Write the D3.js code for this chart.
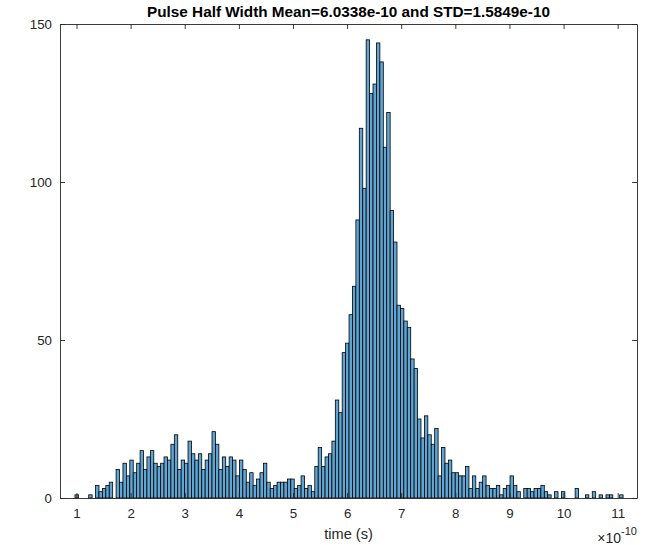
<!DOCTYPE html>
<html>
<head>
<meta charset="utf-8">
<script src="https://cdn.jsdelivr.net/npm/d3@7"></script>
<style>
  body { margin: 0; background: #fff; }
  svg { display: block; font-family: "Liberation Sans", Arial, Helvetica, sans-serif; }
  .axis text { font-size: 13.3px; fill: #262626; }
  .axis path, .axis line { stroke: #262626; stroke-width: 0.9; }
</style>
</head>
<body>
<div id="chart"></div>
<script>
'use strict';

// histogram counts per bin, bins in units of 1e-10 s
var binStart = 0.972
  , binWidth = 0.0633
  , counts = [
      1, 0, 0, 0, 1, 0, 4, 2, 3, 4,
      5, 0, 9, 5, 11, 7, 12, 8, 11, 15,
      9, 13, 15, 11, 10, 11, 13, 12, 17, 20,
      9, 12, 11, 18, 14, 12, 14, 9, 12, 14,
      21, 17, 9, 13, 10, 13, 12, 7, 12, 9,
      5, 8, 4, 6, 8, 11, 5, 3, 4, 5,
      5, 5, 6, 6, 3, 4, 7, 3, 4, 2,
      10, 16, 10, 13, 14, 18, 31, 27, 46, 49,
      58, 67, 88, 117, 98, 145, 128, 131, 144, 138,
      111, 122, 91, 81, 61, 60, 56, 54, 44, 41,
      25, 19, 26, 20, 17, 22, 7, 16, 11, 12,
      8, 8, 7, 7, 10, 3, 7, 3, 5, 7,
      4, 3, 3, 4, 1, 3, 4, 7, 4, 2,
      0, 3, 3, 2, 3, 3, 4, 2, 1, 0,
      2, 0, 2, 0, 0, 0, 3, 0, 0, 1,
      0, 2, 0, 1, 0, 1, 1, 0, 0, 1
    ]
  , xTicks = [1, 2, 3, 4, 5, 6, 7, 8, 9, 10, 11]
  , yTicks = [0, 50, 100, 150]
  , xDomain = [0.695, 11.357]
  , yDomain = [0, 150]
  , titleText = 'Pulse Half Width Mean=6.0338e-10 and STD=1.5849e-10'
  , xLabelText = 'time (s)'
;

var width = 656
  , height = 545
  , margin = { top: 24, right: 19, bottom: 47, left: 60 }
  , innerW = width - margin.left - margin.right
  , innerH = height - margin.top - margin.bottom
;

var svg = d3.select('#chart').append('svg')
    .attr('width', width)
    .attr('height', height);

var g = svg.append('g')
    .attr('transform', 'translate(' + margin.left + ',' + margin.top + ')');

var x = d3.scaleLinear().domain(xDomain).range([0, innerW]);
var y = d3.scaleLinear().domain(yDomain).range([innerH, 0]);

// bars
g.selectAll('rect.bar')
    .data(counts)
    .enter()
    .append('rect')
    .attr('class', 'bar')
    .attr('x', function (d, i) { return x(binStart + i * binWidth); })
    .attr('width', function (d, i) { return x(binStart + (i + 1) * binWidth) - x(binStart + i * binWidth); })
    .attr('y', function (d) { return y(d); })
    .attr('height', function (d) { return y(0) - y(d); })
    .attr('fill', 'rgb(96,166,213)')
    .attr('stroke', '#000')
    .attr('stroke-width', 0.8);

// axes, ticks pointing inward like matlab
var tick = 5;

g.append('g')
    .attr('class', 'axis')
    .attr('transform', 'translate(0,' + innerH + ')')
    .call(d3.axisBottom(x).tickValues(xTicks).tickSizeInner(-tick).tickSizeOuter(0).tickPadding(11));

g.append('g')
    .attr('class', 'axis')
    .call(d3.axisTop(x).tickValues(xTicks).tickSizeInner(-tick).tickSizeOuter(0).tickFormat(''));

g.append('g')
    .attr('class', 'axis')
    .call(d3.axisLeft(y).tickValues(yTicks).tickSizeInner(-tick).tickSizeOuter(0).tickPadding(8));

g.append('g')
    .attr('class', 'axis')
    .attr('transform', 'translate(' + innerW + ',0)')
    .call(d3.axisRight(y).tickValues(yTicks).tickSizeInner(-tick).tickSizeOuter(0).tickFormat(''));

// title
svg.append('text')
    .attr('x', margin.left + innerW / 2)
    .attr('y', 17)
    .attr('text-anchor', 'middle')
    .attr('font-size', '15.3px')
    .attr('font-weight', 'bold')
    .attr('fill', '#000')
    .text(titleText);

// x label
svg.append('text')
    .attr('x', margin.left + innerW / 2)
    .attr('y', 539)
    .attr('text-anchor', 'middle')
    .attr('font-size', '14.6px')
    .attr('fill', '#262626')
    .text(xLabelText);

// exponent label
var expo = svg.append('text')
    .attr('x', margin.left + innerW)
    .attr('y', 543)
    .attr('text-anchor', 'end')
    .attr('font-size', '14px')
    .attr('fill', '#262626');
expo.append('tspan').text('\u00d710');
expo.append('tspan').attr('dy', -8).attr('font-size', '11px').text('-10');
</script>
</body>
</html>
